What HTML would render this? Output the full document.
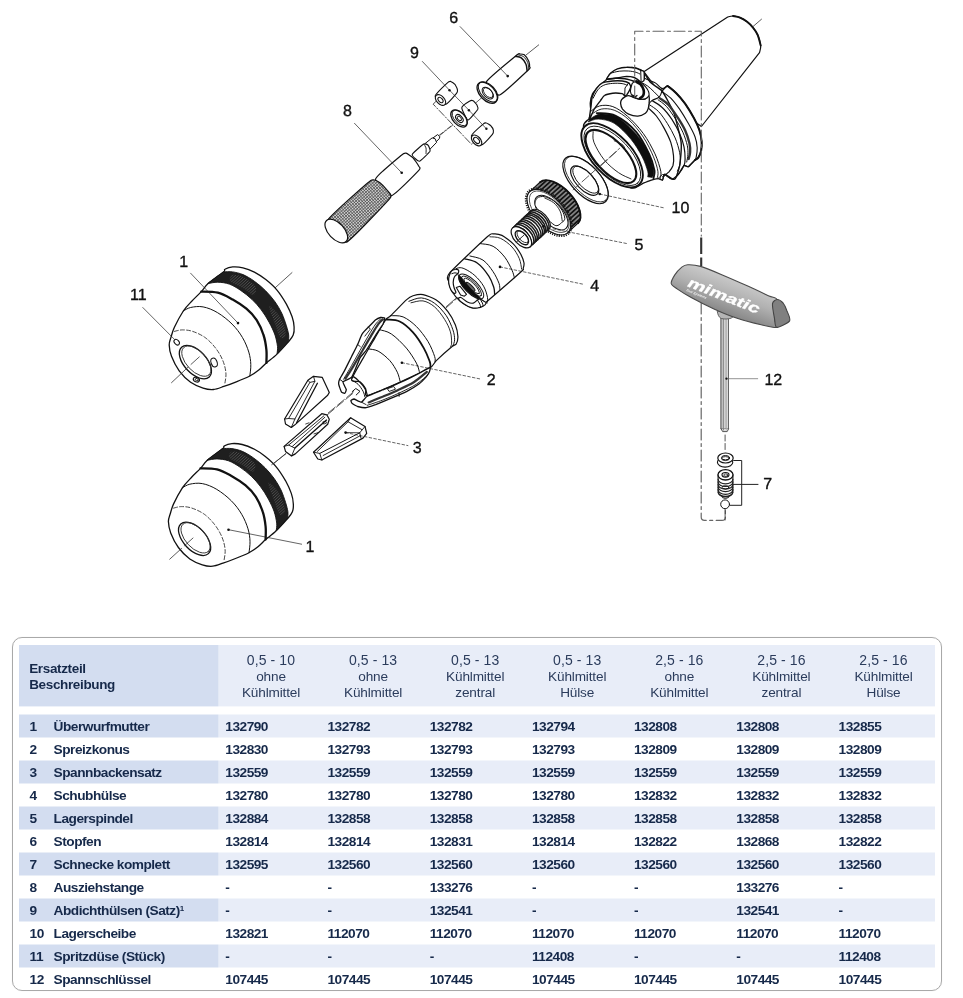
<!DOCTYPE html>
<html lang="de"><head><meta charset="utf-8"><title>Ersatzteile</title>
<style>
html,body{margin:0;padding:0;background:#fff}
body{width:963px;height:998px;position:relative;overflow:hidden;font-family:"Liberation Sans",sans-serif;color:#16294a}
svg{position:absolute;left:0;top:0;will-change:transform}
svg text{font-family:"Liberation Sans",sans-serif;fill:#111;stroke:#111;stroke-width:0.35px;text-rendering:geometricPrecision}
.box{position:absolute;left:12px;top:637.2px;width:928px;height:351.6px;border:1.5px solid #a9a9a9;border-radius:10px;box-shadow:0 0 1px #ddd}
.tbl{position:absolute;left:0;top:0;width:963px;height:998px;will-change:transform}
.f{position:absolute}
.dk{background:#d3ddf0}
.lt{background:#e8edf8}
.t{position:absolute;font-size:13.7px;line-height:15px;font-weight:bold;white-space:nowrap;letter-spacing:-0.5px}
.fills{will-change:auto}
.t sup{font-size:8px;line-height:0;vertical-align:4px}
.hl{position:absolute;font-size:13.5px;line-height:16px;font-weight:bold;white-space:nowrap;letter-spacing:-0.35px}
.hc{position:absolute;width:120px;text-align:center;font-size:13.6px;line-height:15.85px;white-space:nowrap;letter-spacing:-0.15px;color:#2b3c5c}
.hc .n{letter-spacing:0.1px;font-size:14px}
</style></head>
<body>
<svg width="963" height="620" viewBox="0 0 963 620" stroke-linecap="round" stroke-linejoin="round">
<defs>
<pattern id="knurl" width="2.2" height="2.2" patternUnits="userSpaceOnUse" patternTransform="rotate(-42)">
<rect width="2.2" height="2.2" fill="#d2d2d2"/><path d="M0 0.4H2.2M0.4 0V2.2" stroke="#444" stroke-width="0.58"/></pattern>
<pattern id="teeth" width="4" height="1.5" patternUnits="userSpaceOnUse" patternTransform="rotate(-42)">
<rect width="4" height="1.5" fill="#121212"/><path d="M0 0.75H4" stroke="#4a4a4a" stroke-width="0.4"/></pattern>
<pattern id="hatch" width="4" height="2.1" patternUnits="userSpaceOnUse" patternTransform="rotate(-42)">
<path d="M0 1H4" stroke="#d8d8d8" stroke-width="0.55"/></pattern>
<pattern id="thread" width="3" height="3" patternUnits="userSpaceOnUse" patternTransform="rotate(47)">
<rect width="3" height="3" fill="#fff"/><path d="M0 1H3" stroke="#222" stroke-width="1.1"/></pattern>
<linearGradient id="hg" gradientUnits="userSpaceOnUse" x1="742" y1="262" x2="722" y2="318">
<stop offset="0" stop-color="#9c9c9c"/><stop offset="0.25" stop-color="#cfcfcf"/><stop offset="0.6" stop-color="#b0b0b0"/><stop offset="1" stop-color="#7d7d7d"/></linearGradient>
<linearGradient id="sg" x1="0" y1="0" x2="1" y2="0">
<stop offset="0" stop-color="#8a8a8a"/><stop offset="0.3" stop-color="#f4f4f4"/><stop offset="0.55" stop-color="#bdbdbd"/><stop offset="1" stop-color="#e6e6e6"/></linearGradient>
<pattern id="gear" width="4" height="3.4" patternUnits="userSpaceOnUse" patternTransform="rotate(-42)">
<rect width="4" height="3.4" fill="#141414"/><path d="M0 1.7H4" stroke="#f0f0f0" stroke-width="0.95"/></pattern>
</defs>
<path d="M752.8 26.7L761.5 19.2" stroke="#333" stroke-width="0.8" fill="none"/>
<path d="M643.8 71.7L727.7 17C728.6 16.8 731 15.9 733 16C735 16.1 737.6 16.6 740 17.6C742.4 18.6 744.9 20.1 747.1 21.8C749.3 23.5 751.2 25.4 753 27.6C754.8 29.8 756.4 32 757.7 35C759 38 760.4 42.6 760.7 45.6C761 48.6 759.7 51.5 759.5 52.7L701.4 126.5L666 101Z" fill="#fff" stroke="#111" stroke-width="1.2"/>
<path d="M733 16C734.2 16.3 737.6 16.6 740 17.6C742.4 18.6 744.9 20.1 747.1 21.8C749.3 23.5 751.2 25.4 753 27.6C754.8 29.8 756.4 32 757.7 35C759 38 760.2 43.8 760.7 45.6" fill="none" stroke="#111" stroke-width="1.9"/>
<path d="M661.9 91.5C663.7 89.3 666 85.9 667.5 86C668.9 86.2 674.5 91.4 676.3 93.2C678 94.9 683.3 101.2 685.1 103.6C686.8 106.1 692.5 115.3 693.9 118C695.3 120.6 698.6 127.8 699.4 130.1C700.2 132.4 701.4 139 701.6 141.1C701.8 143.2 701.4 149.4 701.1 151C700.7 152.7 698.9 156.7 698.3 157.6C697.7 158.5 696 159.1 695 160C694 160.9 689.5 166.1 688.4 166.7C687.3 167.2 685 164.8 684 165.5C683 166.3 679.6 172.8 678.5 174.1C677.4 175.5 674.3 179.1 673 179.1C671.6 179.1 667.3 176.8 665.3 174.1C663.2 171.4 653.6 158.7 652 152.1C650.5 145.5 648.8 114.1 649.8 108C650.8 102 660.2 93.7 661.9 91.5Z" fill="#fff" stroke="#111" stroke-width="1.3"/>
<path d="M583.7 127.7C582.2 122.5 588.1 120.4 588.8 119C589.5 117.5 590.8 114.7 591 113.1C591.1 111.5 590.1 104.9 590.3 103C590.4 101.1 591.5 96 592.4 94.2C593.4 92.5 598.3 87 599.7 85.5C601.1 84.1 605.2 80.8 606.3 79.7C607.3 78.6 608.7 75.7 609.9 74.6C611.1 73.6 616.3 69.8 618.6 69.1C620.9 68.4 631 67.3 633.1 67.4C635.3 67.4 638.6 69.1 639.7 69.5C640.7 70 642.5 70.7 643.6 72C644.7 73.3 648.7 80.7 650.6 82.6C652.5 84.6 659.9 88.3 662.2 91.3C664.5 94.4 672 108.1 673.9 113.1C675.7 118.2 680.5 137 681.1 142.2C681.7 147.5 680.2 161.8 679.7 165.5C679.1 169.1 676.2 177.3 675.3 178.6C674.4 179.9 672 179 670.9 178.6C669.9 178.1 665.2 174.1 664.4 174.2C663.6 174.3 663.2 179.6 662.5 180C661.9 180.5 659.1 178.5 657.9 178.6C656.7 178.6 652 179.8 650.6 180.3C649.1 180.8 645.2 182.4 643.3 183.2C641.4 184 635.6 189.2 631.7 188C627.8 186.8 608.9 177.3 604.1 171.3C599.3 165.3 585.2 132.9 583.7 127.7Z" fill="#fff" stroke="#111" stroke-width="1.4"/>
<path d="M667.5 86C668.9 87.2 673.3 90.2 676.3 93.2C679.2 96.1 682.1 99.5 685.1 103.6C688 107.8 691.5 113.6 693.9 118C696.3 122.4 698.1 126.2 699.4 130.1C700.7 133.9 701.3 137.6 701.6 141.1C701.9 144.6 701.6 148.3 701.1 151C700.5 153.8 699.3 156.1 698.3 157.6C697.3 159.1 695.5 159.6 695 160" fill="none" stroke="#111" stroke-width="2"/>
<path d="M661.9 91.5C663.4 92.6 667.8 95.2 670.8 98.1C673.7 101.1 676.6 104.9 679.6 109.1C682.5 113.4 685.8 118.9 688.4 123.5C691 128.1 693.5 132.6 695 136.7C696.5 140.7 697 144.2 697.2 147.7C697.4 151.2 696.5 155.5 696.1 157.6C695.7 159.7 695.2 159.9 695 160.4" fill="none" stroke="#111" stroke-width="1.1"/>
<path d="M660 98.4C661.4 99.5 665.7 101.8 668.6 105C671.5 108.1 674.6 112.9 677.4 117.1C680.1 121.3 683.1 125.9 685.1 130.3C687.1 134.7 688.6 139.8 689.5 143.5C690.3 147.2 690.3 149.8 690.1 152.3C690 154.9 688.9 157.8 688.6 158.9" fill="none" stroke="#333" stroke-width="2.4"/>
<path d="M658.1 99.8C659.5 100.9 663.5 103.3 666.4 106.4C669.2 109.5 672.4 114.2 675.2 118.5C677.9 122.8 680.9 127.8 682.9 132.3C684.9 136.8 686.4 141.8 687.3 145.5C688.1 149.2 688 151.6 687.9 154.3C687.9 157.1 686.9 160.7 686.7 162" fill="none" stroke="#111" stroke-width="1"/>
<path d="M652 100.6C653.7 101.7 658.6 104 661.9 107.2C665.3 110.3 668.9 114.9 671.9 119.3C674.8 123.7 677.6 129 679.6 133.6C681.6 138.2 683.1 142.6 684 146.8C684.9 151 685.1 155.8 685.1 158.9C685.1 162.1 685.1 163 684 165.5C682.9 168.1 680.3 171.9 678.5 174.1C676.7 176.3 674.1 178 673.2 178.8" fill="none" stroke="#111" stroke-width="1.2"/>
<path d="M649.8 105C651.3 106.1 655.7 108.5 658.6 111.6C661.6 114.7 664.7 119.3 667.5 123.7C670.2 128.1 673.1 133.2 675.2 138C677.2 142.8 678.7 148.1 679.6 152.3C680.4 156.6 680.5 160.2 680.1 163.3C679.8 166.5 677.8 169.8 677.4 171.1" fill="none" stroke="#111" stroke-width="1"/>
<path d="M648.7 108.3C650 109.6 653.9 112.7 656.4 116C659 119.3 661.8 123.7 664.1 128.1C666.5 132.5 669.2 137.8 670.8 142.4C672.3 147 673.1 151.8 673.5 155.6C673.9 159.5 673.8 162.8 673 165.5C672.1 168.3 670.2 170.3 668.6 172.2C666.9 174 664 175.8 663 176.6" fill="none" stroke="#111" stroke-width="1.2"/>
<path d="M663 176.6 L665.3 174.1 L673 179.1" fill="none" stroke="#111" stroke-width="1.1"/>
<path d="M695 160 L688.4 166.7 L684 165.5" fill="none" stroke="#111" stroke-width="1.1"/>
<path d="M644.3 78.3C646.2 79.1 652.4 81.2 655.3 82.9C658.3 84.6 659.9 87.9 661.9 88.4C664 89 666.5 86.4 667.5 86" fill="none" stroke="#111" stroke-width="1.1"/>
<path d="M661.9 88.4C661.9 89 662.2 90.3 661.7 91.7C661.3 93.2 660.8 95.6 659.2 97C657.6 98.5 653.7 99.4 652 100.6C650.3 101.7 649.5 102.6 648.9 103.9C648.4 105.1 648.8 107.5 648.7 108.3" fill="none" stroke="#111" stroke-width="1.1"/>
<path d="M636.6 80.5C638.4 81.4 643.9 83.3 647.6 86C651.4 88.8 657.3 95.2 659.2 97" fill="none" stroke="#111" stroke-width="1"/>
<path d="M606.6 79.2C606.2 78.6 609.8 74.1 610.8 73.1C611.9 72.1 615.8 69.5 617.4 68.9C619 68.3 624.9 67.3 626.7 67.3C628.6 67.2 634.7 68.1 636.1 68.4C637.5 68.7 640 70 640.7 70.3C641.5 70.6 643.7 70.7 644 71.7C644.4 72.7 644.4 79.1 644.1 80.1C643.8 81.1 641.8 82.1 641.2 82.1C640.6 82.1 639.1 80.6 638.4 80.1C637.7 79.6 635.4 77.8 634.2 77.5C633 77.1 628.6 76.4 626.7 76.4C624.9 76.5 617.5 78 615.5 78.2C613.5 78.5 607.1 79.7 606.6 79.2Z" fill="#fff" stroke="#111" stroke-width="1.4"/>
<path d="M640.7 70.3 L641.1 81.9" fill="none" stroke="#111" stroke-width="1"/>
<path d="M610.8 73.1C612.2 72.8 616.3 71.6 619.3 71.2C622.2 70.9 625.8 70.8 628.6 71C631.4 71.2 634.2 71.8 636.1 72.3C637.9 72.8 639.2 73.7 639.8 74" fill="none" stroke="#111" stroke-width="1"/>
<path d="M589.3 119.8C589 119.5 590.7 109 591 106.7C591.3 104.5 591.6 99.2 592.1 97.4C592.7 95.6 595.3 90 596.4 88.5C597.4 87.1 600.8 83.6 602.4 82.9C604.1 82.1 610.7 81.2 612.7 81C614.7 80.8 620.5 80.8 622.1 81C623.6 81.2 627.7 82.3 628.6 82.9C629.5 83.5 630.8 85.9 630.7 87.1C630.5 88.3 627.5 93.7 626.9 94.6C626.3 95.4 625.2 95.9 624.7 95.8C624.2 95.7 623.3 93.9 622.1 93.6C620.9 93.4 614.5 93 612.7 93.2C611 93.4 605.7 94.7 604.5 95.5C603.2 96.3 601.1 99.7 600.1 101.1C599 102.5 595.1 107.7 594 109.5C592.9 111.4 589.6 120.1 589.3 119.8Z" fill="#fff" stroke="#111" stroke-width="1.4"/>
<path d="M593.1 98.3C593.9 96.9 596 92.1 597.8 89.9C599.5 87.7 601.3 86.3 603.8 85.2C606.3 84.1 609.7 83.6 612.7 83.4C615.7 83.1 619.6 83.2 622.1 83.6C624.5 83.9 626.3 85 627.2 85.2" fill="none" stroke="#111" stroke-width="1"/>
<path d="M628.6 82.9 L625 88 L624.7 95.8" fill="none" stroke="#111" stroke-width="1"/>
<path d="M606.6 79.2C608.1 79 612.5 78.3 615.5 78.2C618.6 78.1 622.1 78.3 624.9 78.7C627.7 79.1 630.5 80.2 632.3 80.7C634.2 81.2 635.5 81.5 636.1 81.7" fill="none" stroke="#111" stroke-width="1.5"/>
<path d="M620.7 103.9C620.5 102.7 621 100.7 621.6 99.7C622.1 98.8 623.9 97.5 624.9 96.9C625.8 96.4 627.6 95.7 628.6 95.7C629.6 95.7 631.3 96.6 632.3 96.9C633.3 97.3 635 98 636.1 98.3C637.2 98.6 639.5 99.2 640.7 99.3C642 99.3 644.4 99.3 645.4 98.8C646.5 98.3 648.2 95.6 648.7 95.7C649.2 95.8 649.3 98.2 649.3 99.3C649.4 100.3 649.1 102.7 649 103.9C648.8 105.2 648.7 107.4 648.2 108.6C647.8 109.8 646.8 112.3 645.4 113.3C644 114.3 640.2 116 637.9 116.1C635.7 116.2 630.7 115.1 628.6 114.2C626.5 113.3 623.6 110.4 622.5 109.1C621.5 107.7 620.8 105.2 620.7 103.9Z" fill="#fff" stroke="#111" stroke-width="1.3"/>
<path d="M630.9 88C631.2 86.9 631.7 84.3 632.3 83.4C633 82.5 635 81.4 636.1 81.3C637.2 81.2 639.5 81.7 640.7 82.4C642 83.1 644.4 85.5 645.4 86.6C646.4 87.8 648 90.1 648.4 91.3C648.9 92.5 649.2 94.7 648.8 95.7C648.4 96.7 646.5 98.3 645.4 98.8C644.3 99.3 642 99.3 640.7 99.3C639.5 99.2 637.2 98.6 636.1 98.1C635 97.7 633.1 96.8 632.3 96C631.6 95.1 630.7 92.8 630.5 91.8C630.3 90.7 630.7 89.2 630.9 88Z" fill="#fff" stroke="#111" stroke-width="1.1"/>
<path d="M636.1 81.7C636.9 82.1 639.5 83.1 640.7 84.5C642 85.9 643.1 88.1 643.6 89.9C644 91.7 643.8 94.1 643.2 95.5C642.6 96.9 640.5 97.9 640 98.3" fill="none" stroke="#0d0d0d" stroke-width="2.6"/>
<path d="M632.3 95C632.8 95.3 634.4 96.6 635.1 96.6C635.9 96.7 636.7 95.7 637 95.5" fill="none" stroke="#111" stroke-width="1.3"/>
<path d="M590.3 111.7C591.8 110.7 596 106.7 599.7 105.9C603.5 105 608.2 104.9 612.8 106.6C617.4 108.3 622.2 111.6 627.3 116.1C632.4 120.5 638.7 127.2 643.3 133.5C647.9 139.8 652 147.6 655 153.9C657.9 160.2 659.9 167.2 660.8 171.3C661.6 175.4 660.2 177.4 660 178.6" fill="none" stroke="#111" stroke-width="1"/>
<path d="M591 114.6C592.7 113.7 597.3 109.8 601.2 109.1C605 108.4 609.6 108.5 614.2 110.2C618.9 112 623.9 115.2 628.8 119.7C633.6 124.2 639.2 131 643.3 137.1C647.4 143.3 651.1 151.1 653.5 156.8C655.9 162.5 657.3 167.7 657.9 171.3C658.5 174.9 657.3 177.4 657.1 178.6" fill="none" stroke="#111" stroke-width="0.9"/>
<path d="M596.8 113.1C600 113.6 609.2 112.7 615.7 115.8C622.2 118.9 630.5 125.4 636.1 131.8C641.6 138.1 646.1 147.5 649.1 153.9C652.2 160.2 653.6 166.1 654.4 170.1C655.1 174.2 653.6 176.9 653.5 178.3" fill="none" stroke="#111" stroke-width="1.9"/>
<path d="M588.5 121.9C590.1 121.4 594 118.9 598.3 119.1C602.5 119.4 608.8 120 614.2 123.3C619.7 126.7 626.3 133.7 631 139.3C635.6 144.9 639.4 151.4 642.2 156.8C644.9 162.1 646.8 168 647.7 171.3C648.6 174.6 647.7 175.9 647.7 176.8L652.3 177.4C652.6 176.1 654.4 174.2 653.6 169.8C652.9 165.5 650.7 157.5 647.7 151.4C644.6 145.3 640.4 138.9 635.3 133.2C630.2 127.5 623 120.4 617.2 117.2C611.3 114 604.9 113.8 600.4 114C596 114.3 592.1 117.9 590.4 118.7Z" fill="#0d0d0d" stroke="#0d0d0d" stroke-width="0.7"/>
<ellipse cx="612.1" cy="155.3" rx="39.8" ry="19.6" transform="rotate(47 612.1 155.3)" fill="#fff" stroke="#111" stroke-width="1.9"/>
<ellipse cx="612.4" cy="155.9" rx="37.2" ry="17.6" transform="rotate(47 612.4 155.9)" fill="none" stroke="#111" stroke-width="0.9"/>
<ellipse cx="610.9" cy="156.5" rx="33.4" ry="15.2" transform="rotate(47 610.9 156.5)" fill="#fff" stroke="#111" stroke-width="2.1"/>
<path d="M593.2 131.8C593.3 133.5 592.1 137.6 593.9 142.2C595.7 146.9 600 154.6 604.1 159.7C608.2 164.8 614.1 169.6 618.6 172.7C623.1 175.9 628.9 177.8 631 178.9" fill="none" stroke="#111" stroke-width="0.9"/>
<path d="M614.2 140.8C615.7 141.5 621 143.3 623 145.1C624.9 146.9 625.4 150.6 625.9 151.7" fill="none" stroke="#111" stroke-width="0.8"/>
<path d="M601.2 165.5L618.6 149.5" stroke="#333" stroke-width="0.8" fill="none" stroke-dasharray="9 3"/>
<path d="M657.9 178.6 L662.5 174.5 L664.4 174.5 L662.5 180.3" fill="none" stroke="#111" stroke-width="0.9"/>
<path d="M634.7 97V31.3H701.3V236" fill="none" stroke="#666" stroke-width="1.1" stroke-dasharray="11 3.5 3 3.5"/>
<path d="M701.2 237.5V254M701.2 257.5V266" fill="none" stroke="#333" stroke-width="2.1" stroke-linecap="butt"/>
<path d="M701 292V300" fill="none" stroke="#222" stroke-width="2"/>
<path d="M701.2 303V517Q701.2 520.4 704.5 520.4H722Q725.4 520.4 725.4 517V509" fill="none" stroke="#666" stroke-width="1.2" stroke-dasharray="11 3.5 3 3.5"/>
<path d="M274.7 288.2L292 272.6" stroke="#333" stroke-width="0.8" fill="none"/>
<path d="M170.9 337.6C171.7 335 172.5 331.2 174.4 327.2C176.3 323.2 180.8 314.9 183.3 311C185.9 307.1 189 304.1 191.7 301.3C194.3 298.4 198.5 294.6 201 291.9C203.5 289.3 204.8 286.6 208.1 283.6C211.5 280.6 221 274 223.6 271.9C226.1 269.8 223.6 270 224.9 269.3C226.3 268.5 230 267.1 232.7 266.9C235.4 266.7 239.7 267 243 267.8C246.2 268.6 251 270.4 254.4 272.1C257.8 273.9 262.4 276.8 265.8 279.6C269.2 282.3 274.2 286.7 277.2 290.4C280.3 294.1 284.1 300.2 286.4 304.1C288.6 308.1 290.9 313.3 292.1 316.7C293.3 320.1 294 324.2 294.1 327C294.3 329.7 294.1 332.8 293.2 335C292.4 337.1 291.1 338.6 288.7 341.5C286.2 344.3 280.4 350.9 277 354.1C273.7 357.4 269.1 360.6 266.4 362.9C263.7 365.3 261.6 367.8 259.1 369.8C256.7 371.8 253.2 374.2 249.8 376C246.4 377.8 240.2 380.3 236.3 381.8C232.4 383.4 227.3 385.3 223.8 386.4C220.4 387.6 216.6 389.3 213.5 389.5C210.3 389.8 206.5 389.2 203.1 388.1C199.6 387 194.2 384.8 190.6 382.3C187 379.7 182.1 374.7 179.2 370.8C176.3 366.9 173 360.2 171.5 356.3C170 352.4 169.3 347.7 169.2 344.9C169.1 342.1 170.1 340.3 170.9 337.6Z" fill="#fff" stroke="#111" stroke-width="1.3"/>
<path d="M208.1 283.6C209.8 283.3 214.3 282.1 217.8 282.2C221.4 282.3 225.5 282.8 229.3 284.1C233.1 285.5 236.9 287.8 240.7 290.4C244.5 293 248.7 296.3 252.1 299.5C255.5 302.8 258.4 306 261.2 309.8C264.1 313.6 267 318.2 269.2 322.4C271.5 326.6 273.6 331 275 335C276.3 339 277.1 343.2 277.5 346.4C277.8 349.6 277.1 352.8 277 354.1L288.4 341.5C288.5 340.4 289 337.6 288.7 335C288.3 332.3 287.5 329.4 286.4 325.8C285.2 322.2 283.7 317.3 281.8 313.3C279.9 309.3 277.6 305.5 275 301.8C272.3 298.1 269.2 294.4 265.8 291C262.4 287.6 258.2 284 254.4 281.3C250.6 278.5 246.6 276.2 243 274.6C239.4 273.1 235.9 272.4 232.7 271.9C229.5 271.4 225.1 271.9 223.6 271.9Z" fill="url(#teeth)" stroke="#111" stroke-width="0.9"/>
<path d="M232.7 275C235 274.4 240.3 275.8 244.1 277.8C247.9 279.8 254 284.1 255.5 287C257.1 289.8 255.3 294.8 253.3 295C251.2 295.2 246.8 290.4 243 288.1C239.2 285.8 232.1 283.5 230.4 281.3C228.7 279.1 230.4 275.6 232.7 275Z" fill="url(#hatch)" opacity="0.4"/>
<path d="M269.2 306.4C269.8 304.9 275.8 310.8 278.4 314.4C281 318 283.5 324.5 284.7 328.1C285.8 331.7 286 334.6 285.2 336.1C284.5 337.6 281.8 339.3 280.1 337.2C278.4 335.1 276.8 328.7 275 323.5C273.1 318.4 268.7 307.9 269.2 306.4Z" fill="url(#hatch)" opacity="0.4"/>
<path d="M201.3 291.6C204 291.7 212.6 291.4 217.8 292.7C223.1 294 227.9 296.9 232.7 299.5C237.5 302.2 242.4 305.3 246.4 308.7C250.4 312.1 253.8 315.7 256.7 320.1C259.5 324.5 261.9 330 263.5 335C265.2 339.9 265.9 345.1 266.4 349.8C266.9 354.5 266.4 360.7 266.4 362.9" fill="none" stroke="#111" stroke-width="2.3"/>
<path d="M183.3 311C184.6 310.4 187.3 308.2 190.6 307.5C193.9 306.8 198.6 306 203.1 306.9C207.6 307.7 212.8 309.8 217.6 312.7C222.5 315.6 228 320 232.1 324.1C236.3 328.3 239.8 332.9 242.5 337.6C245.3 342.3 247.4 347.6 248.8 352.1C250.1 356.6 250.7 360.6 250.8 364.6C251 368.6 250 374.1 249.8 376" fill="none" stroke="#111" stroke-width="1"/>
<path d="M174.4 331.4C175.7 331.1 179.3 329.9 182.3 329.9C185.4 329.9 188.9 330.1 192.7 331.4C196.5 332.7 201.3 334.8 205.2 337.6C209 340.4 212.6 344.2 215.5 348C218.5 351.8 221.1 356.3 222.8 360.5C224.5 364.6 225.6 369.1 225.9 372.9C226.3 376.7 225.1 381.6 224.9 383.3" fill="none" stroke="#333" stroke-width="0.9" stroke-dasharray="4 2.2"/>
<ellipse cx="195.4" cy="362.1" rx="20.3" ry="11.2" transform="rotate(47 195.4 362.1)" fill="#fff" stroke="#111" stroke-width="1.3"/>
<ellipse cx="196.4" cy="361.2" rx="18.6" ry="9.9" transform="rotate(47 196.4 361.2)" fill="none" stroke="#333" stroke-width="0.9"/>
<ellipse cx="176.7" cy="342.2" rx="3.2" ry="2.2" transform="rotate(47 176.7 342.2)" fill="none" stroke="#111" stroke-width="1"/>
<ellipse cx="214.1" cy="362.5" rx="4.6" ry="3" transform="rotate(70 214.1 362.5)" fill="none" stroke="#111" stroke-width="1"/>
<ellipse cx="196.4" cy="379.6" rx="3.2" ry="2.3" transform="rotate(20 196.4 379.6)" fill="none" stroke="#111" stroke-width="1.1"/>
<ellipse cx="196.7" cy="379.6" rx="1.6" ry="1.1" transform="rotate(20 196.7 379.6)" fill="none" stroke="#111" stroke-width="0.8"/>
<path d="M171.5 382.7L188.1 367.1" stroke="#333" stroke-width="0.8" fill="none"/>
<path d="M191 364.4L199.3 356.9" stroke="#333" stroke-width="0.8" fill="none"/>
<path d="M272.9 464.3L286 453.3" stroke="#333" stroke-width="0.8" fill="none"/>
<path d="M170.1 514.3C170.9 511.7 171.7 507.9 173.6 503.9C175.5 499.9 180 491.6 182.5 487.7C185.1 483.8 188.2 480.8 190.9 478C193.5 475.1 197.7 471.3 200.2 468.6C202.7 466 204 463.3 207.3 460.3C210.7 457.3 220.2 450.7 222.8 448.6C225.3 446.5 222.8 446.7 224.1 446C225.5 445.2 229.2 443.8 231.9 443.6C234.6 443.4 238.9 443.7 242.2 444.5C245.4 445.3 250.2 447.1 253.6 448.8C257 450.6 261.6 453.5 265 456.3C268.4 459 273.4 463.4 276.4 467.1C279.5 470.8 283.3 476.9 285.6 480.8C287.8 484.8 290.1 490 291.3 493.4C292.5 496.8 293.2 500.9 293.3 503.7C293.5 506.4 293.3 509.5 292.4 511.7C291.6 513.8 290.3 515.3 287.9 518.2C285.4 521 279.6 527.6 276.2 530.8C272.9 534.1 268.3 537.3 265.6 539.6C262.9 542 260.8 544.5 258.3 546.5C255.9 548.5 252.4 550.9 249 552.7C245.6 554.5 239.4 557 235.5 558.5C231.6 560.1 226.5 562 223 563.1C219.6 564.3 215.8 566 212.7 566.2C209.5 566.5 205.7 565.9 202.3 564.8C198.8 563.7 193.4 561.5 189.8 559C186.2 556.4 181.3 551.4 178.4 547.5C175.5 543.6 172.2 536.9 170.7 533C169.2 529.1 168.5 524.4 168.4 521.6C168.3 518.8 169.3 517 170.1 514.3Z" fill="#fff" stroke="#111" stroke-width="1.3"/>
<path d="M207.3 460.3C209 460 213.5 458.8 217 458.9C220.6 459 224.7 459.5 228.5 460.8C232.3 462.2 236.1 464.5 239.9 467.1C243.7 469.7 247.9 473 251.3 476.2C254.7 479.5 257.6 482.7 260.4 486.5C263.3 490.3 266.2 494.9 268.4 499.1C270.7 503.3 272.8 507.7 274.2 511.7C275.5 515.7 276.3 519.9 276.7 523.1C277 526.3 276.3 529.5 276.2 530.8L287.6 518.2C287.7 517.1 288.2 514.3 287.9 511.7C287.5 509 286.7 506.1 285.6 502.5C284.4 498.9 282.9 494 281 490C279.1 486 276.8 482.2 274.2 478.5C271.5 474.8 268.4 471.1 265 467.7C261.6 464.3 257.4 460.7 253.6 458C249.8 455.2 245.8 452.9 242.2 451.3C238.6 449.8 235.1 449.1 231.9 448.6C228.7 448.1 224.3 448.6 222.8 448.6Z" fill="url(#teeth)" stroke="#111" stroke-width="0.9"/>
<path d="M231.9 451.7C234.2 451.1 239.5 452.5 243.3 454.5C247.1 456.5 253.2 460.8 254.7 463.7C256.3 466.5 254.5 471.5 252.5 471.7C250.4 471.9 246 467.1 242.2 464.8C238.4 462.5 231.3 460.2 229.6 458C227.9 455.8 229.6 452.3 231.9 451.7Z" fill="url(#hatch)" opacity="0.4"/>
<path d="M268.4 483.1C269 481.6 275 487.5 277.6 491.1C280.2 494.7 282.7 501.2 283.9 504.8C285 508.4 285.2 511.3 284.4 512.8C283.7 514.3 281 516 279.3 513.9C277.6 511.8 276 505.4 274.2 500.2C272.3 495.1 267.9 484.6 268.4 483.1Z" fill="url(#hatch)" opacity="0.4"/>
<path d="M200.5 468.3C203.2 468.4 211.8 468.1 217 469.4C222.3 470.7 227.1 473.6 231.9 476.2C236.7 478.9 241.6 482 245.6 485.4C249.6 488.8 253 492.4 255.9 496.8C258.7 501.2 261.1 506.7 262.7 511.7C264.4 516.6 265.1 521.8 265.6 526.5C266.1 531.2 265.6 537.4 265.6 539.6" fill="none" stroke="#111" stroke-width="2.3"/>
<path d="M182.5 487.7C183.8 487.1 186.5 484.9 189.8 484.2C193.1 483.5 197.8 482.7 202.3 483.6C206.8 484.4 212 486.5 216.8 489.4C221.7 492.3 227.2 496.7 231.3 500.8C235.5 505 239 509.6 241.7 514.3C244.5 519 246.6 524.3 248 528.8C249.3 533.3 249.9 537.3 250 541.3C250.2 545.3 249.2 550.8 249 552.7" fill="none" stroke="#111" stroke-width="1"/>
<path d="M173.6 508.1C174.9 507.8 178.5 506.6 181.5 506.6C184.6 506.6 188.1 506.8 191.9 508.1C195.7 509.4 200.5 511.5 204.4 514.3C208.2 517.1 211.8 520.9 214.7 524.7C217.7 528.5 220.3 533 222 537.2C223.7 541.3 224.8 545.8 225.1 549.6C225.5 553.4 224.3 558.3 224.1 560" fill="none" stroke="#333" stroke-width="0.9" stroke-dasharray="4 2.2"/>
<ellipse cx="194.6" cy="538.8" rx="20.3" ry="11.2" transform="rotate(47 194.6 538.8)" fill="#fff" stroke="#111" stroke-width="1.3"/>
<ellipse cx="195.6" cy="537.9" rx="18.6" ry="9.9" transform="rotate(47 195.6 537.9)" fill="none" stroke="#333" stroke-width="0.9"/>
<path d="M169.7 559.2L181.6 548.4" stroke="#333" stroke-width="0.8" fill="none"/>
<path d="M184.5 545.7L193 538" stroke="#333" stroke-width="0.8" fill="none"/>
<path d="M446.3 306.6L457.9 296.6" stroke="#333" stroke-width="0.8" fill="none"/>
<path d="M328.3 412.9L354.1 391.3" stroke="#333" stroke-width="0.8" fill="none" stroke-dasharray="9 3"/>
<path d="M406.4 299.9C409 297.6 411.1 296.4 413 295.8C415 295.2 420.3 294.1 423 294.6C425.7 295.1 433.4 298 436.3 299.9C439.2 301.9 445.7 308.7 447.9 311.6C450.2 314.5 454.2 322 455.4 324.9C456.6 327.8 457.8 334.3 457.9 336.5C458 338.7 456.9 342.8 456.2 344C455.6 345.1 454.4 344.5 452.1 346.5C449.8 348.4 438.9 358.1 436.3 360.6C433.7 363.1 433.9 365.5 429.7 368.1C425.4 370.6 407 379 399.7 382.2C392.5 385.4 371.7 394.7 367.7 395.5C363.7 396.2 366.6 390.4 365.7 388.8C364.8 387.2 361.5 382.7 359.9 381.7C358.2 380.6 351.2 382.4 351.6 379.7C352 376.9 360.5 362.9 363.2 358.1C365.9 353.2 372.2 342.6 374.8 338.1C377.4 333.7 383.8 322.5 385.6 319.9C387.5 317.3 388.2 318 390.6 315.7C393 313.4 403.8 302.3 406.4 299.9Z" fill="#fff" stroke="#111" stroke-width="1.2"/>
<path d="M408.9 301.3C411 300.7 417.1 297.6 421.3 297.9C425.6 298.3 430.5 300.3 434.6 303.3C438.8 306.2 443.2 311.3 446.3 315.7C449.3 320.2 451.5 325.8 452.9 329.8C454.3 333.9 454.6 337.2 454.6 339.8C454.6 342.4 453.2 344.7 452.9 345.6" fill="none" stroke="#111" stroke-width="1"/>
<path d="M411 302.8C413 302.5 419.1 300.2 423 300.9C426.9 301.6 431 303.8 434.6 306.9C438.2 310 442 315.2 444.6 319.4C447.2 323.5 449.3 327.9 450.4 331.8C451.6 335.8 451.6 340.6 451.6 343.1C451.6 345.6 450.6 346.2 450.4 346.8" fill="none" stroke="#111" stroke-width="0.9"/>
<path d="M390.6 315.7C392.7 315.9 398.8 315.1 403.1 316.9C407.4 318.7 412.2 322.4 416.4 326.5C420.5 330.6 424.9 336.5 428 341.5C431 346.5 433.5 353 434.6 356.4C435.8 359.8 434.9 360.9 435 361.7" fill="none" stroke="#111" stroke-width="1"/>
<path d="M386.5 319.5C388.7 319.9 395.3 319.4 399.7 321.5C404.2 323.7 409 327.9 413 332.3C417.1 336.8 421.1 343.3 423.8 348.1C426.6 353 428.5 358.3 429.7 361.4C430.8 364.5 430.3 365.8 430.5 366.7" fill="none" stroke="#111" stroke-width="1.8"/>
<path d="M379.8 329.8C381.7 330.5 387 330.9 391.4 334C395.9 337 402.2 343.3 406.4 348.1C410.5 353 414.1 358.9 416.4 363.1C418.6 367.2 419.1 371.4 419.7 373" fill="none" stroke="#111" stroke-width="1"/>
<path d="M368.2 348.9C369.8 349.3 374.5 349.2 378.1 351.1C381.7 353 386.6 357.1 389.8 360.6C393 364.1 395.5 368.7 397.3 372.2C399 375.7 399.6 379.8 400.1 381.3" fill="none" stroke="#111" stroke-width="1"/>
<path d="M351.6 378.1C352 377.9 352.5 376.3 353.8 376.9C355.1 377.5 357.6 379.7 359.4 381.7C361.3 383.7 363.8 386.6 365.1 388.9C366.4 391.2 367.1 394.5 367.5 395.6" fill="none" stroke="#111" stroke-width="1.2"/>
<path d="M352 380.3C353 381 356.4 382.5 358.2 384.4C360.1 386.2 362 389.3 363.1 391.3C364.2 393.4 364.6 395.9 364.9 396.8" fill="none" stroke="#111" stroke-width="1"/>
<path d="M352.2 391.6 L355.8 388.5 L360 391.3 L356.2 395" fill="none" stroke="#111" stroke-width="1"/>
<path d="M384.7 318C384.5 317.5 381.2 317.4 380.5 317.5C379.7 317.7 376.7 319 375.7 319.8C374.7 320.6 369.6 325.9 368.5 327C367.3 328.2 363.1 332.4 362.2 333.9C361.3 335.3 358.5 342.6 357.6 344.5C356.8 346.4 352.7 354.3 351.6 356.5C350.5 358.7 345.4 369 344.4 370.9C343.4 372.8 340.1 378.2 339.6 379.3C339.1 380.4 338.5 383.1 338.7 384.1C338.8 385.2 340.9 391.2 341.4 391.9C341.9 392.7 344.3 393.5 344.7 393.3C345.1 393.1 346.4 390.5 346.2 389.5C346.1 388.6 342.5 382.8 343 381.7C343.5 380.7 350.5 378.9 351.9 376.9C353.3 374.9 358.9 360.1 360 357.9C361.2 355.7 364.8 352.4 366.1 350.5C367.4 348.6 374.3 337.3 375.7 335.1C377.1 332.9 382.1 325.7 382.9 324.3C383.6 322.9 384.9 318.6 384.7 318Z" fill="#fff" stroke="#111" stroke-width="1.3"/>
<path d="M382.9 319.2C382.1 320.1 380.1 321.5 378.1 324.3C376.1 327.1 373.5 331.7 370.9 336.1C368.3 340.4 365.3 345.6 362.5 350.5C359.6 355.3 356.9 360.4 354 365.1C351.2 369.9 346.8 376.5 345.4 378.7" fill="none" stroke="#333" stroke-width="2.2"/>
<path d="M381.1 318.6C380.2 319.5 377.8 321.1 375.7 324C373.5 326.9 370.8 331.7 368.2 336.1C365.6 340.5 362.8 345.6 360 350.5C357.3 355.4 354.4 360.7 351.6 365.5C348.9 370.3 344.8 377 343.5 379.3" fill="none" stroke="#111" stroke-width="0.9"/>
<path d="M368.5 327 L370.3 329.1 L364.9 336.1" fill="none" stroke="#111" stroke-width="0.9"/>
<path d="M357.6 344.5 L360.3 346.6" fill="none" stroke="#111" stroke-width="0.9"/>
<path d="M339.6 379.3 L343 381.7" fill="none" stroke="#111" stroke-width="1"/>
<path d="M430 367.5C430.9 367.4 429.6 371.3 429.3 372.1C429 372.9 427 375.9 426.2 376.9C425.3 377.9 420.5 382.9 418.9 384.1C417.3 385.3 409.3 390.1 406.9 391.3C404.5 392.5 392.7 397.5 390.1 398.6C387.5 399.7 377.7 403.8 375.7 404.6C373.7 405.3 367.6 407.5 366.1 407.7C364.6 407.9 358.8 406.8 357.6 406.5C356.5 406.1 352.8 404.1 352.2 403.6C351.7 403.1 350.8 400.9 350.9 400.5C351.1 400.1 353.2 398.9 354 399C354.9 399.2 360.4 402.4 361.5 402.2C362.6 401.9 365.3 397.3 367.3 396.2C369.2 395.1 382.4 390.1 385.3 388.9C388.2 387.7 399.3 383 402.1 381.7C404.9 380.4 416.6 374.5 418.9 373.3C421.3 372.1 429.1 367.6 430 367.5Z" fill="#fff" stroke="#111" stroke-width="1.3"/>
<path d="M426.8 371.9C424.7 373.6 419 378.9 414.1 382C409.2 385.1 402.9 387.8 397.3 390.4C391.7 393 385.2 395.6 380.5 397.6C375.7 399.6 370.7 401.6 368.7 402.4" fill="none" stroke="#333" stroke-width="2.2"/>
<path d="M428 374.8C426.1 376.3 421.2 381.1 416.5 384.1C411.8 387.1 405.3 390.1 399.7 392.8C394.1 395.4 388.3 397.9 382.9 400C377.5 402.1 369.9 404.4 367.3 405.3" fill="none" stroke="#111" stroke-width="0.9"/>
<path d="M387.7 388.6 L393.7 386.5 L395.5 389.2 L389.5 391.3Z" fill="none" stroke="#111" stroke-width="0.9"/>
<path d="M399.1 392.5 L399.1 396.4" fill="none" stroke="#111" stroke-width="0.9"/>
<path d="M361.5 402.2 L366.1 404.6" fill="none" stroke="#111" stroke-width="0.9"/>
<path d="M271.7 464.7L285.8 453.9" stroke="#333" stroke-width="0.8" fill="none"/>
<path d="M327.3 414.8L353.1 393.2" stroke="#333" stroke-width="0.8" fill="none" stroke-dasharray="9 3"/>
<path d="M284.6 419 L307.9 380.3 L313.5 376.3 L322.3 377.4 L329.3 392.4 L327.7 395.2 L294.6 425.1 L291.3 427.5 L285.5 424Z" fill="#fff" stroke="#111" stroke-width="1.2"/>
<path d="M307.9 380.3 L309.9 382.4 L288.6 418.5 L284.6 419" fill="none" stroke="#111" stroke-width="0.9"/>
<path d="M309.9 382.4 L314.9 381.3 L313.5 376.3" fill="none" stroke="#111" stroke-width="0.9"/>
<path d="M314.9 381.3 L294.9 419 L291.3 427.5" fill="none" stroke="#111" stroke-width="0.9"/>
<path d="M288.6 418.5 L294.9 419" fill="none" stroke="#111" stroke-width="0.9"/>
<path d="M317.4 383.3 L296.6 422.8" fill="none" stroke="#111" stroke-width="1.3"/>
<path d="M284.1 446.4 L321.8 413.7 L326.8 414.8 L329.3 419.3 L327.7 424.3 L295.3 453.9 L291.6 455.9 L285.5 451.4Z" fill="#fff" stroke="#111" stroke-width="1.2"/>
<path d="M284.1 446.4 L288.6 445.1 L324 415.7" fill="none" stroke="#111" stroke-width="0.9"/>
<path d="M288.6 445.1 L294.9 448.1 L291.6 455.9" fill="none" stroke="#111" stroke-width="0.9"/>
<path d="M294.9 448.1 L326.5 420.1" fill="none" stroke="#111" stroke-width="1.4"/>
<path d="M292.4 446.4 L324.8 417.3" fill="none" stroke="#111" stroke-width="0.9"/>
<path d="M323.2 421.8 L325.7 421.1 L326.5 423.1 L324 424Z" fill="none" stroke="#111" stroke-width="0.8"/>
<path d="M305.7 424 L309 422.8" fill="none" stroke="#111" stroke-width="0.8"/>
<path d="M314 433.9 L318.2 432.6" fill="none" stroke="#111" stroke-width="0.8"/>
<path d="M313.5 452.2 L350.6 417.8 L365 426.5 L366.7 433.4 L363 438.1 L321.8 460 L317.8 459Z" fill="#fff" stroke="#111" stroke-width="1.2"/>
<path d="M313.5 452.2 L319.8 453.4 L321.8 460" fill="none" stroke="#111" stroke-width="0.9"/>
<path d="M319.8 453.4 L359.7 432.8 L361 438.1" fill="none" stroke="#111" stroke-width="1"/>
<path d="M317.4 451.4 L348.1 421.8 L362.2 429.8 L359.7 432.8" fill="none" stroke="#111" stroke-width="0.9"/>
<path d="M348.1 421.8 L350.6 417.8" fill="none" stroke="#111" stroke-width="0.9"/>
<path d="M362.2 429.8 L365 426.5" fill="none" stroke="#111" stroke-width="0.9"/>
<path d="M323.2 455.5 L360.5 435.6" fill="none" stroke="#111" stroke-width="0.9"/>
<path d="M345.6 432.6 L359.7 432.8" fill="none" stroke="#111" stroke-width="0.8"/>
<path d="M440.4 134.9L452.9 125" stroke="#333" stroke-width="0.8" fill="none" stroke-dasharray="5 2 1.5 2"/>
<path d="M433.3 137.7 L437.6 134.6 L439.9 136.6 L439.3 138.6 L436 141.9Z" fill="#fff" stroke="#111" stroke-width="1"/>
<path d="M425 143.6 L432.1 137.9 L435 138.6 L436.6 142.4 L430 149.2Z" fill="#fff" stroke="#111" stroke-width="1"/>
<path d="M412.2 154.5C412.6 153.1 422.5 144.8 423.8 144.1C425.1 143.3 427.5 144.6 428 145.2C428.5 145.8 430.7 149.9 430 151.2C429.2 152.5 420.8 160.9 419.3 161.2C417.9 161.4 411.8 156 412.2 154.5Z" fill="#fff" stroke="#111" stroke-width="1.1"/>
<path d="M423.8 144.1C424.2 144.7 425.6 146.3 426 147.9C426.3 149.5 426 152.6 426 153.5" fill="none" stroke="#111" stroke-width="0.9"/>
<path d="M375.6 178.9C376.5 175.6 398.9 157.3 401.4 155.2C403.9 153 405.1 153 406 153.2C407 153.4 412 156.8 413 157.8C414.1 158.9 418.3 165.1 418.8 166.2C419.3 167.2 421.3 167.7 419 170.1C416.7 172.6 395 195 391.4 195.7C387.8 196.5 374.8 182.3 375.6 178.9Z" fill="#fff" stroke="#111" stroke-width="1.2"/>
<path d="M327 221C328.6 216.9 367.2 182.9 370.8 180.4C374.4 177.9 379.6 182.7 380.8 183.4C381.9 184.2 387.5 190.4 388.1 191.4C388.7 192.4 392.9 194.7 390.1 198.1C387.3 201.4 350.8 240.6 346.6 242.1C342.4 243.6 325.3 225.1 327 221Z" fill="url(#knurl)" stroke="#111" stroke-width="1.2"/>
<ellipse cx="336.3" cy="231" rx="14.3" ry="7.9" transform="rotate(47 336.3 231)" fill="#fff" stroke="#111" stroke-width="1.2"/>
<path d="M526.3 54.8L538.7 44.9" stroke="#333" stroke-width="0.8" fill="none"/>
<path d="M486.4 81.8C487.8 78.4 514.3 57.2 517.1 54.8C519.9 52.5 519.4 54 520 54C520.5 54 523.5 54.2 524.3 54.8C525 55.4 528.3 60.2 528.8 61.2C529.2 62.2 529.6 66.1 529.6 66.8C529.6 67.5 531.3 67.1 528.8 69.5C526.3 71.8 503.2 94 499.7 95C496.2 96.1 484.9 85.1 486.4 81.8Z" fill="#fff" stroke="#111" stroke-width="1.2"/>
<path d="M515.5 56.5C516.4 56.7 519.5 56.6 521.3 57.8C523 59.1 525 61.8 525.9 64C526.9 66.1 526.9 69.5 527.1 70.6" fill="none" stroke="#111" stroke-width="1.5"/>
<path d="M517.6 54.8C518.6 55.1 521.6 55.3 523.3 56.5C524.9 57.7 526.7 60.2 527.6 62.3C528.5 64.4 528.6 67.9 528.8 69" fill="none" stroke="#111" stroke-width="0.9"/>
<ellipse cx="487.2" cy="92.7" rx="12.6" ry="7.4" transform="rotate(47 487.2 92.7)" fill="#fff" stroke="#111" stroke-width="1.3"/>
<ellipse cx="488.1" cy="91.9" rx="12.2" ry="7" transform="rotate(47 488.1 91.9)" fill="none" stroke="#111" stroke-width="1"/>
<ellipse cx="487.8" cy="93.1" rx="7" ry="4.2" transform="rotate(47 487.8 93.1)" fill="none" stroke="#111" stroke-width="1"/>
<ellipse cx="488.2" cy="92.7" rx="6" ry="3.4" transform="rotate(47 488.2 92.7)" fill="none" stroke="#111" stroke-width="0.8"/>
<path d="M435.9 101.4 L433.2 104.2 L471.4 144.2 L474.3 141.6" fill="none" stroke="#333" stroke-width="0.9" stroke-dasharray="7 2 1.5 2"/>
<path d="M475.6 103L481.4 98" stroke="#333" stroke-width="0.8" fill="none"/>
<path d="M439 135.4L450.7 126.3" stroke="#333" stroke-width="0.8" fill="none" stroke-dasharray="5 2 1.5 2"/>
<path d="M435.2 96C435.4 94.2 446.1 84 447.4 82.8C448.6 81.5 450 81.3 450.7 81.4C451.3 81.6 454.6 84 455.2 84.7C455.7 85.5 457.4 89.3 457.5 90.1C457.6 90.8 457.5 92.2 456.5 93.4C455.5 94.6 447.5 104.1 445.7 104.4C443.9 104.6 435.1 97.8 435.2 96Z" fill="#fff" stroke="#111" stroke-width="1.1"/>
<ellipse cx="440.5" cy="100" rx="6.4" ry="3.9" transform="rotate(47 440.5 100)" fill="#fff" stroke="#111" stroke-width="1.1"/>
<ellipse cx="440.5" cy="100" rx="3.2" ry="1.9" transform="rotate(47 440.5 100)" fill="none" stroke="#111" stroke-width="1"/>
<path d="M461.8 107.7C461.9 106.1 468.8 101.6 469.8 101C470.7 100.4 472.5 100.4 473.1 100.7C473.7 101 476.4 104 476.8 104.7C477.1 105.4 478.5 108.1 477.8 109.3C477 110.6 469.4 120.1 468.1 120C466.8 119.8 461.7 109.3 461.8 107.7Z" fill="#fff" stroke="#111" stroke-width="1.1"/>
<ellipse cx="459" cy="118.5" rx="10.2" ry="6" transform="rotate(47 459 118.5)" fill="#fff" stroke="#111" stroke-width="1.3"/>
<ellipse cx="459.8" cy="117.9" rx="9.6" ry="5.4" transform="rotate(47 459.8 117.9)" fill="none" stroke="#111" stroke-width="0.9"/>
<ellipse cx="459.4" cy="118.5" rx="4.6" ry="2.8" transform="rotate(47 459.4 118.5)" fill="none" stroke="#111" stroke-width="1.1"/>
<ellipse cx="459.4" cy="118.5" rx="2.6" ry="1.6" transform="rotate(47 459.4 118.5)" fill="none" stroke="#111" stroke-width="0.9"/>
<path d="M471.4 135.9C471.6 134.2 481.8 125.2 483.1 124.1C484.3 123 485.7 122.8 486.4 123C487.1 123.1 490.5 125.3 491 126C491.6 126.6 493.3 129.7 493.4 130.4C493.5 131.1 493.4 133.1 492.4 134.3C491.4 135.5 483.2 144.8 481.4 144.9C479.7 145 471.3 137.6 471.4 135.9Z" fill="#fff" stroke="#111" stroke-width="1.1"/>
<ellipse cx="476.6" cy="140.4" rx="6.4" ry="3.9" transform="rotate(47 476.6 140.4)" fill="#fff" stroke="#111" stroke-width="1.2"/>
<ellipse cx="476.6" cy="140.4" rx="3.6" ry="2.2" transform="rotate(47 476.6 140.4)" fill="none" stroke="#111" stroke-width="1.1"/>
<path d="M422.4 61.5L449.5 90.2" stroke="#222" stroke-width="0.7" fill="none"/>
<path d="M449.5 90.2L468.9 110.2" stroke="#222" stroke-width="0.7" fill="none"/>
<path d="M468.9 110.2L486.4 128.8" stroke="#222" stroke-width="0.7" fill="none"/>
<circle cx="449.5" cy="90.2" r="1.2" fill="#111"/>
<circle cx="468.9" cy="110.2" r="1.2" fill="#111"/>
<circle cx="486.4" cy="128.8" r="1.2" fill="#111"/>
<ellipse cx="585.6" cy="179.9" rx="29.6" ry="14.4" transform="rotate(47 585.6 179.9)" fill="#fff" stroke="#111" stroke-width="1.2"/>
<ellipse cx="586.4" cy="179.2" rx="28.6" ry="13.6" transform="rotate(47 586.4 179.2)" fill="none" stroke="#111" stroke-width="0.8"/>
<ellipse cx="584.7" cy="180.7" rx="18.4" ry="8.6" transform="rotate(47 584.7 180.7)" fill="#fff" stroke="#111" stroke-width="1.2"/>
<ellipse cx="585.7" cy="179.8" rx="17" ry="7.6" transform="rotate(47 585.7 179.8)" fill="none" stroke="#111" stroke-width="0.9"/>
<path d="M573.1 189.8L619.6 148.3" stroke="#333" stroke-width="0.8" fill="none" stroke-dasharray="9 3"/>
<path d="M529.8 191.7L540 182.2A28 14.5 47 0 1 578.1 223.2L567.8 232.7A28 14.5 47 0 0 529.8 191.7Z" fill="url(#gear)" stroke="#111" stroke-width="1.1"/>
<path d="M540 182.2A28 14.5 47 0 1 578.1 223.2" fill="none" stroke="#111" stroke-width="1.8"/>
<ellipse cx="548.8" cy="212.2" rx="28" ry="14.5" transform="rotate(47 548.8 212.2)" fill="#fff" stroke="#111" stroke-width="1.1"/>
<ellipse cx="548.8" cy="212.2" rx="28.9" ry="15.4" transform="rotate(47 548.8 212.2)" fill="none" stroke="#1a1a1a" stroke-width="2.6" stroke-dasharray="1.1 1.2" stroke-linecap="butt"/>
<ellipse cx="549.3" cy="211.8" rx="25.8" ry="12.9" transform="rotate(47 549.3 211.8)" fill="none" stroke="#333" stroke-width="0.8"/>
<ellipse cx="551.4" cy="212.6" rx="21.5" ry="10.6" transform="rotate(47 551.4 212.6)" fill="none" stroke="#111" stroke-width="1"/>
<path d="M535.8 206.9C533.5 203.3 536.1 199.4 537.2 198C538.4 196.7 542.1 196.3 544.3 196.6C546.4 197 551.2 199 553.6 200.8C556 202.6 560.5 207.8 562 210.2C563.5 212.6 564.8 217 564.8 218.6C564.8 220.2 563.4 221.5 562 222.3C560.6 223.2 558 227.2 554.5 225.1C551 223.1 538.1 210.5 535.8 206.9Z" fill="#fff" stroke="#111" stroke-width="1"/>
<path d="M544.7 198C546.2 198.8 551 200.5 553.6 202.7C556.2 204.9 558.7 208.1 560.1 211.1C561.6 214.2 561.9 219.3 562.2 220.9" fill="none" stroke="#111" stroke-width="0.9"/>
<path d="M512.6 227.8L531.3 210.5A12.9 7.2 47 0 1 548.9 229.4L530.2 246.8A12.9 7.2 47 0 0 512.6 227.8Z" fill="#fff" stroke="#111" stroke-width="1.1"/>
<path d="M515.2 225.5A12.9 7.2 47 0 1 532.7 244.4" fill="none" stroke="#1a1a1a" stroke-width="1.5"/>
<path d="M516.9 223.9A12.9 7.2 47 0 1 534.4 242.8" fill="none" stroke="#1a1a1a" stroke-width="1.5"/>
<path d="M518.6 222.3A12.9 7.2 47 0 1 536.1 241.2" fill="none" stroke="#1a1a1a" stroke-width="1.5"/>
<path d="M520.3 220.8A12.9 7.2 47 0 1 537.8 239.7" fill="none" stroke="#1a1a1a" stroke-width="1.5"/>
<path d="M521.9 219.2A12.9 7.2 47 0 1 539.5 238.1" fill="none" stroke="#1a1a1a" stroke-width="1.5"/>
<path d="M523.6 217.6A12.9 7.2 47 0 1 541.2 236.6" fill="none" stroke="#1a1a1a" stroke-width="1.5"/>
<path d="M525.3 216.1A12.9 7.2 47 0 1 542.9 235" fill="none" stroke="#1a1a1a" stroke-width="1.5"/>
<path d="M527 214.5A12.9 7.2 47 0 1 544.5 233.4" fill="none" stroke="#1a1a1a" stroke-width="1.5"/>
<path d="M528.7 213A12.9 7.2 47 0 1 546.2 231.9" fill="none" stroke="#1a1a1a" stroke-width="1.5"/>
<path d="M530.4 211.4A12.9 7.2 47 0 1 547.9 230.3" fill="none" stroke="#1a1a1a" stroke-width="1.5"/>
<ellipse cx="521.4" cy="237.3" rx="12.9" ry="7.2" transform="rotate(47 521.4 237.3)" fill="#fff" stroke="#111" stroke-width="1.2"/>
<ellipse cx="521.9" cy="237.7" rx="8.6" ry="4.6" transform="rotate(47 521.9 237.7)" fill="#fff" stroke="#111" stroke-width="1.3"/>
<ellipse cx="522.8" cy="236.8" rx="7.4" ry="3.8" transform="rotate(47 522.8 236.8)" fill="none" stroke="#111" stroke-width="0.8"/>
<path d="M516.2 242.4L523.7 235.4" stroke="#333" stroke-width="0.7" fill="none"/>
<path d="M516.4 241.9L524 235.1" stroke="#333" stroke-width="0.8" fill="none"/>
<path d="M449.5 273.1C454 267.9 482.2 241.4 487.3 236.8C492.4 232.2 491.5 234.1 493.1 233.9C494.8 233.7 499.5 234.2 501.9 235.4C504.2 236.5 511.3 241.9 513.5 244.1C515.7 246.3 519.5 252 520.8 254.2C522 256.5 523.7 261.3 524 263C524.2 264.7 523.5 267.7 523.1 268.8C522.7 269.8 525.3 267.9 520.8 272C516.3 276.1 489.3 299.5 484.4 303.7C479.5 307.8 480.3 307.1 478.6 307.5C476.9 307.8 472.1 307.7 469.9 306.9C467.7 306.1 461.7 302.5 459.7 300.8C457.7 299 453.7 294.3 452.4 292C451.2 289.8 449.1 284.1 448.8 281.9C448.5 279.7 445 278.4 449.5 273.1Z" fill="#fff" stroke="#111" stroke-width="1.2"/>
<path d="M489.9 236.8C491.7 237 496.7 236.6 500.4 238.3C504.1 240 508.9 243.6 512 247C515.2 250.4 517.7 254.9 519.3 258.6C520.9 262.3 521.3 267.3 521.6 269.1" fill="none" stroke="#111" stroke-width="0.9"/>
<path d="M480.1 243.6C482.2 244.1 489 244 493.1 246.3C497.3 248.5 501.6 253.2 504.8 257.2C507.9 261.2 510.4 266.8 512 270.2C513.6 273.7 514 276.5 514.4 277.8" fill="none" stroke="#111" stroke-width="1"/>
<path d="M469.9 256C472.1 256.7 479.1 257.4 483 260.1C486.8 262.7 490.5 267.8 493.1 271.7C495.8 275.6 497.8 280.4 499 283.3C500.1 286.3 499.7 288.4 499.8 289.4" fill="none" stroke="#111" stroke-width="1"/>
<path d="M464.8 258.9C466.9 259.6 473.2 260.1 477.2 263C481.2 265.8 486 271.9 488.8 276.1C491.6 280.2 492.9 284.6 493.9 287.7C494.8 290.7 494.5 293.3 494.6 294.4" fill="none" stroke="#111" stroke-width="1.3"/>
<path d="M452.8 270.6C453.8 270.1 456.7 268 458.7 267.8C460.7 267.5 462.2 267.7 464.9 269C467.6 270.3 471.8 272.7 474.9 275.6C478 278.4 481.5 282.5 483.6 286.2C485.7 289.8 486.9 294.5 487.5 297.4C488 300.2 487 302.3 486.9 303.3" fill="none" stroke="#111" stroke-width="1"/>
<ellipse cx="471.2" cy="286.5" rx="16.4" ry="6.6" transform="rotate(45 471.2 286.5)" fill="#fff" stroke="#111" stroke-width="1"/>
<ellipse cx="471.5" cy="286.2" rx="13.6" ry="4.6" transform="rotate(45 471.5 286.2)" fill="none" stroke="#111" stroke-width="0.9"/>
<ellipse cx="471.7" cy="286" rx="10.6" ry="3" transform="rotate(45 471.7 286)" fill="none" stroke="#111" stroke-width="0.9"/>
<ellipse cx="470.6" cy="286.7" rx="6" ry="1.5" transform="rotate(45 470.6 286.7)" fill="#666" stroke="#111" stroke-width="1"/>
<path d="M458.7 275.1C459.2 275.5 460.2 276 461.5 277.4C462.7 278.9 464.5 281.6 466.2 283.7C467.9 285.7 469.9 288 471.8 289.9C473.6 291.8 475.9 293.5 477.4 294.9C478.8 296.2 480 297.5 480.5 298L480.4 298.4C479.8 298.3 478.4 298.6 476.8 297.9C475.1 297.1 472.6 295.5 470.5 293.9C468.5 292.4 466.1 290.4 464.3 288.3C462.5 286.3 460.8 283.9 459.8 281.8C458.8 279.7 458.7 276.6 458.4 275.6Z" fill="#0d0d0d" stroke="#111" stroke-width="0.7"/>
<path d="M451.8 270.7C452.6 270.1 455 269.5 455.9 269.5C456.8 269.4 458.4 270 458.7 270.6C458.9 271.1 458.3 272.9 457.8 273.7C457.2 274.5 455.1 275.6 454.5 276.8C453.8 278 453.2 280.9 453.2 282.4C453.2 283.9 453.8 286.7 454.2 288C454.6 289.4 455.9 291.7 455.9 292.4C455.9 293.1 454.7 293.7 454 293.3C453.4 293 451.6 291.2 450.9 289.9C450.2 288.6 449.1 285.2 448.8 283.7C448.6 282.1 448.6 279.4 448.7 278.1C448.9 276.7 449.6 274.7 450 273.7C450.4 272.7 451 271.3 451.8 270.7Z" fill="#fff" stroke="#111" stroke-width="1.2"/>
<path d="M451.8 273.7C452.4 273.5 453.9 272.8 455 272.8C456 272.8 457.5 273.5 458.1 273.7" fill="none" stroke="#111" stroke-width="1"/>
<path d="M456.3 287.4 L459.9 286.2 L466.5 294.4 L464.4 296.2 L460.6 294.9Z" fill="#fff" stroke="#111" stroke-width="1.1"/>
<path d="M458.6 298.9C458 298 459.7 297.1 460.9 297.5C462.1 297.9 465.8 301.3 467.4 302C469.1 302.8 472 303.4 473.3 303.1C474.7 302.8 476.5 300.5 477.4 300C478.3 299.4 479 298.8 479.9 298.9C480.7 299.1 482.8 300.6 483.6 301.1C484.4 301.6 486.2 302.3 486.1 303C486 303.7 484.2 305.6 483 306.2C481.8 306.9 479 307.8 477.4 308C475.8 308.2 472.8 308.1 471.2 307.6C469.5 307.2 466.6 305.7 464.9 304.5C463.2 303.4 459.1 299.9 458.6 298.9Z" fill="#fff" stroke="#111" stroke-width="1.2"/>
<path d="M477.4 300C477.8 300.7 479.4 303.1 479.9 304.2C480.4 305.3 480.4 306.3 480.5 306.7" fill="none" stroke="#111" stroke-width="1"/>
<path d="M479.9 298.9C480.3 299.6 481.8 301.8 482.4 303C482.9 304.1 482.9 305.3 483 305.8" fill="none" stroke="#111" stroke-width="1"/>
<path d="M445.9 308L457.5 297.9" stroke="#333" stroke-width="0.8" fill="none" stroke-dasharray="9 3"/>
<rect x="721.2" y="316" width="7.3" height="113" fill="url(#sg)" stroke="#555" stroke-width="0.9"/>
<path d="M721.2 429L722.6 431.6H727.2L728.5 429" fill="#ddd" stroke="#555" stroke-width="1"/>
<path d="M723.4 318V430" fill="none" stroke="#777" stroke-width="0.9"/>
<path d="M726.4 318V430" fill="none" stroke="#aaa" stroke-width="0.7"/>
<path d="M717.3 311.5C717.5 312.2 717.7 314.3 718.4 315.4C719.1 316.6 719.8 318 721.5 318.5C723.2 319.1 726.6 319.1 728.5 318.8C730.4 318.6 732.1 317.8 732.9 317C733.7 316.1 733.2 314.4 733.2 313.9Z" fill="#b5b5b5" stroke="#555" stroke-width="0.9"/>
<path d="M671.2 283.5C670.9 281.6 673.4 277.1 674.8 274.9C676.2 272.7 680.1 268.5 681.8 267.1C683.5 265.8 685.2 264.9 687.7 264.8C690.2 264.7 695.9 265 700.5 266.4C705.1 267.7 716.1 272.3 722.3 274.9C728.5 277.5 741 283 747.2 285.8C753.5 288.6 765 294.1 769 296C773 297.8 776.4 296.8 777.1 299.8C777.9 302.9 774.5 314.9 774.5 318.5C774.5 322.2 778.9 326.6 777.1 327.4C775.4 328.2 766.5 326 761.2 324.8C756 323.6 744.1 320.6 737.9 318.5C731.7 316.5 720.7 312 714.5 309.2C708.3 306.4 696.1 300.2 691.2 297.5C686.2 294.8 679.8 290.8 677.1 288.9C674.5 287.1 671.5 285.4 671.2 283.5Z" fill="url(#hg)" stroke="#4a4a4a" stroke-width="1.1"/>
<path d="M772.5 303.7C772.8 301.2 775.7 299.6 777.1 299.5C778.5 299.4 781.7 301.5 783.1 303C784.4 304.5 786.1 308.4 786.9 310.7C787.8 313.1 790.9 318.7 789.6 320.9C788.2 323.1 778.8 327.7 776.8 327.4C774.8 327.1 775.1 321.7 774.5 318.5C773.9 315.4 772.1 306.3 772.5 303.7Z" fill="#808080" stroke="#444" stroke-width="1.1"/>
<g transform="translate(685.9 285.8) rotate(21.5) skewX(-14) scale(1.5 1.04)"><text x="0" y="0" font-size="13.4" font-weight="bold" style="fill:#fff;stroke:#fff;stroke-width:0.3px" text-anchor="start">mimatic</text></g>
<g transform="translate(685.4 290.8) rotate(21.5) skewX(-14)"><text x="0" y="0" font-size="3.4" font-weight="bold" font-style="italic" style="fill:#eee;stroke:none" text-anchor="start">Tool Systems</text></g>
<path d="M725.1 435V451" fill="none" stroke="#444" stroke-width="0.9" stroke-dasharray="6 2.5"/>
<path d="M725.1 509V520" fill="none" stroke="#444" stroke-width="0.9"/>
<ellipse cx="725.1" cy="462.3" rx="7.7" ry="4.8" transform="rotate(0 725.1 462.3)" fill="#fff" stroke="#111" stroke-width="1.1"/>
<ellipse cx="725.5" cy="458" rx="7.7" ry="5" transform="rotate(0 725.5 458)" fill="#fff" stroke="#111" stroke-width="1.2"/>
<ellipse cx="725.5" cy="457.7" rx="4" ry="2.2" transform="rotate(0 725.5 457.7)" fill="none" stroke="#111" stroke-width="1"/>
<ellipse cx="725.5" cy="458.6" rx="4" ry="2" transform="rotate(0 725.5 458.6)" fill="none" stroke="#111" stroke-width="0.8"/>
<ellipse cx="725.5" cy="495.4" rx="4" ry="3" transform="rotate(0 725.5 495.4)" fill="#fff" stroke="#111" stroke-width="1"/>
<path d="M718.1 474.8V491.8A7.4 4.6 0 0 0 732.9 491.8V474.8Z" fill="#fff" stroke="#111" stroke-width="1.1"/>
<path d="M718.1 479.3A7.4 4.6 0 0 0 732.9 479.3" fill="none" stroke="#222" stroke-width="1.2"/>
<path d="M718.1 481.9A7.4 4.6 0 0 0 732.9 481.9" fill="none" stroke="#222" stroke-width="1.2"/>
<path d="M718.1 484.5A7.4 4.6 0 0 0 732.9 484.5" fill="none" stroke="#222" stroke-width="1.2"/>
<path d="M718.1 487.1A7.4 4.6 0 0 0 732.9 487.1" fill="none" stroke="#222" stroke-width="1.2"/>
<path d="M718.1 489.7A7.4 4.6 0 0 0 732.9 489.7" fill="none" stroke="#222" stroke-width="1.2"/>
<path d="M718.1 492.3A7.4 4.6 0 0 0 732.9 492.3" fill="none" stroke="#222" stroke-width="1.2"/>
<ellipse cx="725.5" cy="487.3" rx="3.4" ry="1.6" transform="rotate(0 725.5 487.3)" fill="none" stroke="#111" stroke-width="0.9"/>
<ellipse cx="725.5" cy="474.8" rx="7.5" ry="5.2" transform="rotate(0 725.5 474.8)" fill="#fff" stroke="#111" stroke-width="1.3"/>
<ellipse cx="725.5" cy="474.8" rx="3.5" ry="2.3" transform="rotate(0 725.5 474.8)" fill="none" stroke="#111" stroke-width="1.1"/>
<ellipse cx="725.8" cy="475.1" rx="2" ry="1.2" transform="rotate(0 725.8 475.1)" fill="none" stroke="#111" stroke-width="0.8"/>
<circle cx="725.1" cy="504.3" r="4.4" fill="#fff" stroke="#111" stroke-width="1"/>
<path d="M733.6 460.5H741.7V505.3H729.8" fill="none" stroke="#222" stroke-width="1"/>
<path d="M733 484.4H758" fill="none" stroke="#222" stroke-width="1"/>
<path d="M190.6 273.2L238 323.1" stroke="#222" stroke-width="0.7" fill="none"/>
<circle cx="238" cy="323.1" r="1.3" fill="#111"/>
<path d="M142.8 307.5L174.4 339.3" stroke="#222" stroke-width="0.7" fill="none"/>
<text x="183.6" y="266.8" font-size="16" text-anchor="middle" >1</text>
<text x="138.3" y="300.1" font-size="16" text-anchor="middle" >11</text>
<path d="M228.5 529.7L301.6 544.2" stroke="#222" stroke-width="0.7" fill="none"/>
<circle cx="228.5" cy="529.7" r="1.3" fill="#111"/>
<text x="310" y="551.5" font-size="16" text-anchor="middle" >1</text>
<path d="M401.9 362.7L479.8 378.9" stroke="#222" stroke-width="0.7" fill="none" stroke-dasharray="2.6 2.2"/>
<circle cx="401.9" cy="362.7" r="1.3" fill="#111"/>
<text x="491.1" y="384.9" font-size="16" text-anchor="middle" >2</text>
<path d="M345.6 432.6L407.9 445.6" stroke="#222" stroke-width="0.7" fill="none" stroke-dasharray="2.6 2.2"/>
<circle cx="345.6" cy="432.6" r="1.3" fill="#111"/>
<text x="417.2" y="453.1" font-size="16" text-anchor="middle" >3</text>
<path d="M354.5 123.3L401.7 172.8" stroke="#222" stroke-width="0.7" fill="none"/>
<circle cx="401.7" cy="172.8" r="1.3" fill="#111"/>
<text x="347.4" y="115.8" font-size="16" text-anchor="middle" >8</text>
<path d="M460.1 26.6L507.7 76.1" stroke="#222" stroke-width="0.7" fill="none"/>
<circle cx="507.7" cy="76.1" r="1.3" fill="#111"/>
<text x="453.6" y="23.1" font-size="16" text-anchor="middle" >6</text>
<text x="414.5" y="58.4" font-size="16" text-anchor="middle" >9</text>
<path d="M599.7 194L664.5 208" stroke="#222" stroke-width="0.7" fill="none" stroke-dasharray="2.6 2.2"/>
<circle cx="599.7" cy="194" r="1.3" fill="#111"/>
<text x="680.4" y="213.1" font-size="16" text-anchor="middle" >10</text>
<path d="M553.2 228.9L628.1 243.8" stroke="#222" stroke-width="0.7" fill="none" stroke-dasharray="2.6 2.2"/>
<circle cx="543.5" cy="226.4" r="1.3" fill="#111"/>
<text x="638.9" y="250.1" font-size="16" text-anchor="middle" >5</text>
<path d="M500 266.9L584.5 284.5" stroke="#222" stroke-width="0.7" fill="none" stroke-dasharray="2.6 2.2"/>
<circle cx="500" cy="266.9" r="1.3" fill="#111"/>
<text x="594.7" y="291.1" font-size="16" text-anchor="middle" >4</text>
<path d="M726.4 378.7L757.7 378.7" stroke="#666" stroke-width="0.7" fill="none"/>
<circle cx="726.4" cy="378.7" r="1.1" fill="#111"/>
<text x="773.3" y="384.9" font-size="16" text-anchor="middle" >12</text>
<text x="767.8" y="489.1" font-size="16" text-anchor="middle" >7</text>
</svg>
<div class="tbl">
<div class="box"></div>
<svg width="963" height="998" viewBox="0 0 963 998" class="fills"><rect x="19.0" y="645.0" width="199.7" height="61.4" fill="#d3ddf0"/><rect x="218.7" y="645.0" width="716.3" height="61.4" fill="#e8edf8"/><rect x="19.0" y="714.5" width="199.7" height="23.0" fill="#d3ddf0"/><rect x="218.7" y="714.5" width="716.3" height="23.0" fill="#e8edf8"/><rect x="19.0" y="760.5" width="199.7" height="23.0" fill="#d3ddf0"/><rect x="218.7" y="760.5" width="716.3" height="23.0" fill="#e8edf8"/><rect x="19.0" y="806.5" width="199.7" height="23.0" fill="#d3ddf0"/><rect x="218.7" y="806.5" width="716.3" height="23.0" fill="#e8edf8"/><rect x="19.0" y="852.5" width="199.7" height="23.0" fill="#d3ddf0"/><rect x="218.7" y="852.5" width="716.3" height="23.0" fill="#e8edf8"/><rect x="19.0" y="898.5" width="199.7" height="23.0" fill="#d3ddf0"/><rect x="218.7" y="898.5" width="716.3" height="23.0" fill="#e8edf8"/><rect x="19.0" y="944.5" width="199.7" height="23.0" fill="#d3ddf0"/><rect x="218.7" y="944.5" width="716.3" height="23.0" fill="#e8edf8"/></svg>
<div class="hl" style="left:29.2px;top:661.1px">Ersatzteil<br>Beschreibung</div>
<div class="hc" style="left:211.0px;top:653.2px"><span class="n">0,5 - 10</span><br>ohne<br>Kühlmittel</div>
<div class="hc" style="left:313.1px;top:653.2px"><span class="n">0,5 - 13</span><br>ohne<br>Kühlmittel</div>
<div class="hc" style="left:415.2px;top:653.2px"><span class="n">0,5 - 13</span><br>Kühlmittel<br>zentral</div>
<div class="hc" style="left:517.2px;top:653.2px"><span class="n">0,5 - 13</span><br>Kühlmittel<br>Hülse</div>
<div class="hc" style="left:619.3px;top:653.2px"><span class="n">2,5 - 16</span><br>ohne<br>Kühlmittel</div>
<div class="hc" style="left:721.4px;top:653.2px"><span class="n">2,5 - 16</span><br>Kühlmittel<br>zentral</div>
<div class="hc" style="left:823.5px;top:653.2px"><span class="n">2,5 - 16</span><br>Kühlmittel<br>Hülse</div>
<div class="t" style="left:29.6px;top:718.5px">1</div>
<div class="t" style="left:53.6px;top:718.5px">Überwurfmutter</div>
<div class="t" style="left:225.3px;top:718.5px">132790</div>
<div class="t" style="left:327.5px;top:718.5px">132782</div>
<div class="t" style="left:429.7px;top:718.5px">132782</div>
<div class="t" style="left:532.0px;top:718.5px">132794</div>
<div class="t" style="left:634.0px;top:718.5px">132808</div>
<div class="t" style="left:736.3px;top:718.5px">132808</div>
<div class="t" style="left:838.6px;top:718.5px">132855</div>
<div class="t" style="left:29.6px;top:741.5px">2</div>
<div class="t" style="left:53.6px;top:741.5px">Spreizkonus</div>
<div class="t" style="left:225.3px;top:741.5px">132830</div>
<div class="t" style="left:327.5px;top:741.5px">132793</div>
<div class="t" style="left:429.7px;top:741.5px">132793</div>
<div class="t" style="left:532.0px;top:741.5px">132793</div>
<div class="t" style="left:634.0px;top:741.5px">132809</div>
<div class="t" style="left:736.3px;top:741.5px">132809</div>
<div class="t" style="left:838.6px;top:741.5px">132809</div>
<div class="t" style="left:29.6px;top:764.5px">3</div>
<div class="t" style="left:53.6px;top:764.5px">Spannbackensatz</div>
<div class="t" style="left:225.3px;top:764.5px">132559</div>
<div class="t" style="left:327.5px;top:764.5px">132559</div>
<div class="t" style="left:429.7px;top:764.5px">132559</div>
<div class="t" style="left:532.0px;top:764.5px">132559</div>
<div class="t" style="left:634.0px;top:764.5px">132559</div>
<div class="t" style="left:736.3px;top:764.5px">132559</div>
<div class="t" style="left:838.6px;top:764.5px">132559</div>
<div class="t" style="left:29.6px;top:787.5px">4</div>
<div class="t" style="left:53.6px;top:787.5px">Schubhülse</div>
<div class="t" style="left:225.3px;top:787.5px">132780</div>
<div class="t" style="left:327.5px;top:787.5px">132780</div>
<div class="t" style="left:429.7px;top:787.5px">132780</div>
<div class="t" style="left:532.0px;top:787.5px">132780</div>
<div class="t" style="left:634.0px;top:787.5px">132832</div>
<div class="t" style="left:736.3px;top:787.5px">132832</div>
<div class="t" style="left:838.6px;top:787.5px">132832</div>
<div class="t" style="left:29.6px;top:810.5px">5</div>
<div class="t" style="left:53.6px;top:810.5px">Lagerspindel</div>
<div class="t" style="left:225.3px;top:810.5px">132884</div>
<div class="t" style="left:327.5px;top:810.5px">132858</div>
<div class="t" style="left:429.7px;top:810.5px">132858</div>
<div class="t" style="left:532.0px;top:810.5px">132858</div>
<div class="t" style="left:634.0px;top:810.5px">132858</div>
<div class="t" style="left:736.3px;top:810.5px">132858</div>
<div class="t" style="left:838.6px;top:810.5px">132858</div>
<div class="t" style="left:29.6px;top:833.5px">6</div>
<div class="t" style="left:53.6px;top:833.5px">Stopfen</div>
<div class="t" style="left:225.3px;top:833.5px">132814</div>
<div class="t" style="left:327.5px;top:833.5px">132814</div>
<div class="t" style="left:429.7px;top:833.5px">132831</div>
<div class="t" style="left:532.0px;top:833.5px">132814</div>
<div class="t" style="left:634.0px;top:833.5px">132822</div>
<div class="t" style="left:736.3px;top:833.5px">132868</div>
<div class="t" style="left:838.6px;top:833.5px">132822</div>
<div class="t" style="left:29.6px;top:856.5px">7</div>
<div class="t" style="left:53.6px;top:856.5px">Schnecke komplett</div>
<div class="t" style="left:225.3px;top:856.5px">132595</div>
<div class="t" style="left:327.5px;top:856.5px">132560</div>
<div class="t" style="left:429.7px;top:856.5px">132560</div>
<div class="t" style="left:532.0px;top:856.5px">132560</div>
<div class="t" style="left:634.0px;top:856.5px">132560</div>
<div class="t" style="left:736.3px;top:856.5px">132560</div>
<div class="t" style="left:838.6px;top:856.5px">132560</div>
<div class="t" style="left:29.6px;top:879.5px">8</div>
<div class="t" style="left:53.6px;top:879.5px">Ausziehstange</div>
<div class="t" style="left:225.3px;top:879.5px">-</div>
<div class="t" style="left:327.5px;top:879.5px">-</div>
<div class="t" style="left:429.7px;top:879.5px">133276</div>
<div class="t" style="left:532.0px;top:879.5px">-</div>
<div class="t" style="left:634.0px;top:879.5px">-</div>
<div class="t" style="left:736.3px;top:879.5px">133276</div>
<div class="t" style="left:838.6px;top:879.5px">-</div>
<div class="t" style="left:29.6px;top:902.5px">9</div>
<div class="t" style="left:53.6px;top:902.5px">Abdichthülsen (Satz)<sup>1</sup></div>
<div class="t" style="left:225.3px;top:902.5px">-</div>
<div class="t" style="left:327.5px;top:902.5px">-</div>
<div class="t" style="left:429.7px;top:902.5px">132541</div>
<div class="t" style="left:532.0px;top:902.5px">-</div>
<div class="t" style="left:634.0px;top:902.5px">-</div>
<div class="t" style="left:736.3px;top:902.5px">132541</div>
<div class="t" style="left:838.6px;top:902.5px">-</div>
<div class="t" style="left:29.6px;top:925.5px">10</div>
<div class="t" style="left:53.6px;top:925.5px">Lagerscheibe</div>
<div class="t" style="left:225.3px;top:925.5px">132821</div>
<div class="t" style="left:327.5px;top:925.5px">112070</div>
<div class="t" style="left:429.7px;top:925.5px">112070</div>
<div class="t" style="left:532.0px;top:925.5px">112070</div>
<div class="t" style="left:634.0px;top:925.5px">112070</div>
<div class="t" style="left:736.3px;top:925.5px">112070</div>
<div class="t" style="left:838.6px;top:925.5px">112070</div>
<div class="t" style="left:29.6px;top:948.5px">11</div>
<div class="t" style="left:53.6px;top:948.5px">Spritzdüse (Stück)</div>
<div class="t" style="left:225.3px;top:948.5px">-</div>
<div class="t" style="left:327.5px;top:948.5px">-</div>
<div class="t" style="left:429.7px;top:948.5px">-</div>
<div class="t" style="left:532.0px;top:948.5px">112408</div>
<div class="t" style="left:634.0px;top:948.5px">-</div>
<div class="t" style="left:736.3px;top:948.5px">-</div>
<div class="t" style="left:838.6px;top:948.5px">112408</div>
<div class="t" style="left:29.6px;top:971.5px">12</div>
<div class="t" style="left:53.6px;top:971.5px">Spannschlüssel</div>
<div class="t" style="left:225.3px;top:971.5px">107445</div>
<div class="t" style="left:327.5px;top:971.5px">107445</div>
<div class="t" style="left:429.7px;top:971.5px">107445</div>
<div class="t" style="left:532.0px;top:971.5px">107445</div>
<div class="t" style="left:634.0px;top:971.5px">107445</div>
<div class="t" style="left:736.3px;top:971.5px">107445</div>
<div class="t" style="left:838.6px;top:971.5px">107445</div>
</div>
</body></html>
